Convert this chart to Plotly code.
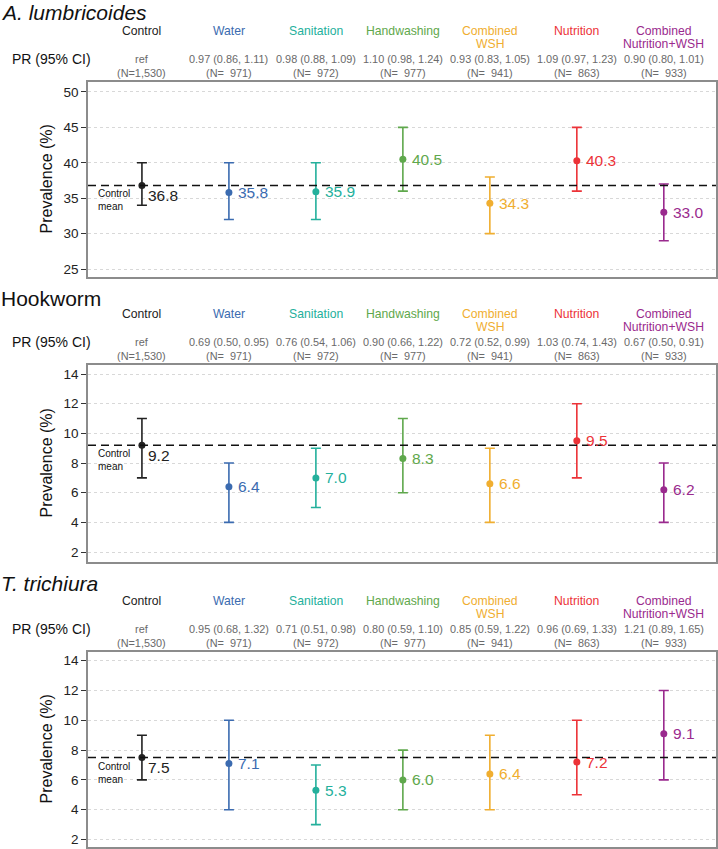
import plotly.graph_objects as go

W, H = 718, 849
FONT = "Liberation Sans, Arial, Helvetica, sans-serif"

groups = ["Control", "Water", "Sanitation", "Handwashing", "Combined\nWSH", "Nutrition", "Combined\nNutrition+WSH"]
colors = ["#222222", "#3b6bb0", "#24b09c", "#5fa84c", "#f0ae30", "#ec3338", "#9a2a8e"]
n_labels = ["(N=1,530)", "(N=  971)", "(N=  972)", "(N=  977)", "(N=  941)", "(N=  863)", "(N=  933)"]

titles = ["<i>A. lumbricoides</i>", "Hookworm", "<i>T. trichiura</i>"]

asc_prev = [36.8, 35.8, 35.9, 40.5, 34.3, 40.3, 33.0]
asc_lo = [34, 32, 32, 36, 30, 36, 29]
asc_hi = [40, 40, 40, 45, 38, 45, 37]
asc_pr = ["ref", "0.97 (0.86, 1.11)", "0.98 (0.88, 1.09)", "1.10 (0.98, 1.24)",
          "0.93 (0.83, 1.05)", "1.09 (0.97, 1.23)", "0.90 (0.80, 1.01)"]

hw_prev = [9.2, 6.4, 7.0, 8.3, 6.6, 9.5, 6.2]
hw_lo = [7, 4, 5, 6, 4, 7, 4]
hw_hi = [11, 8, 9, 11, 9, 12, 8]
hw_pr = ["ref", "0.69 (0.50, 0.95)", "0.76 (0.54, 1.06)", "0.90 (0.66, 1.22)",
         "0.72 (0.52, 0.99)", "1.03 (0.74, 1.43)", "0.67 (0.50, 0.91)"]

tt_prev = [7.5, 7.1, 5.3, 6.0, 6.4, 7.2, 9.1]
tt_lo = [6, 4, 3, 4, 4, 5, 6]
tt_hi = [9, 10, 7, 8, 9, 10, 12]
tt_pr = ["ref", "0.95 (0.68, 1.32)", "0.71 (0.51, 0.98)", "0.80 (0.59, 1.10)",
         "0.85 (0.59, 1.22)", "0.96 (0.69, 1.33)", "1.21 (0.89, 1.65)"]

panels = [
    dict(title=titles[0], prev=asc_prev, lo=asc_lo, hi=asc_hi, pr=asc_pr,
         yrange=[23.87, 51.41], ticks=[25, 30, 35, 40, 45, 50], top=82, bottom=277, title_top=0),
    dict(title=titles[1], prev=hw_prev, lo=hw_lo, hi=hw_hi, pr=hw_pr,
         yrange=[1.33, 14.61], ticks=[2, 4, 6, 8, 10, 12, 14], top=365, bottom=562, title_top=286),
    dict(title=titles[2], prev=tt_prev, lo=tt_lo, hi=tt_hi, pr=tt_pr,
         yrange=[1.5, 14.58], ticks=[2, 4, 6, 8, 10, 12, 14], top=652, bottom=847, title_top=571),
]

xs = list(range(len(groups)))


def ppx(p):
    return p / W


def ppy(p):
    return 1 - p / H


fig = go.Figure()
annotations = []
shapes = []
layout_axes = {}

for k, pn in enumerate(panels):
    sfx = "" if k == 0 else str(k + 1)
    xa, ya = "x" + sfx, "y" + sfx
    for i in xs:
        fig.add_trace(go.Scatter(
            x=[i], y=[pn["prev"][i]], xaxis=xa, yaxis=ya, mode="markers",
            marker=dict(color=colors[i], size=7),
            error_y=dict(type="data", symmetric=False,
                         array=[pn["hi"][i] - pn["prev"][i]],
                         arrayminus=[pn["prev"][i] - pn["lo"][i]],
                         color=colors[i], thickness=1.6, width=5),
            showlegend=False, hoverinfo="skip"))
        annotations.append(dict(
            x=i, y=pn["prev"][i], xref=xa, yref=ya, text=f"{pn['prev'][i]:.1f}",
            showarrow=False, xanchor="left", yanchor="middle",
            xshift=4 if i == 0 else 7, yshift=-10 if i == 0 else 0,
            font=dict(size=15.5, color=colors[i], family=FONT)))
    top, bottom = pn["top"], pn["bottom"]
    layout_axes["xaxis" + sfx] = dict(
        domain=[ppx(88), ppx(716)], range=[-0.62, 6.6], anchor=ya,
        showticklabels=False, ticks="", showgrid=False, zeroline=False,
        showline=True, mirror=True, linecolor="#8c8c8c", linewidth=1.5)
    layout_axes["yaxis" + sfx] = dict(
        domain=[ppy(bottom), ppy(top)], range=pn["yrange"], anchor=xa,
        tickvals=pn["ticks"], ticks="outside", ticklen=5, tickwidth=1.3, tickcolor="#333",
        tickfont=dict(size=13.5, color="#222", family=FONT),
        showgrid=True, gridcolor="#d8d8d8", gridwidth=0.8, griddash="dot",
        zeroline=False, showline=True, mirror=True, linecolor="#8c8c8c", linewidth=1.5)
    mean = pn["prev"][0]
    shapes.append(dict(type="line", xref=xa + " domain", yref=ya, x0=0, x1=1, y0=mean, y1=mean,
                       line=dict(color="#111", width=1.6, dash="8px,5px")))
    annotations.append(dict(
        x=ppx(96), y=mean, xref="paper", yref=ya, text="Control<br>mean", showarrow=False,
        xanchor="left", yanchor="top", align="left", yshift=-1,
        font=dict(size=10, color="#111", family=FONT)))
    annotations.append(dict(
        x=0, y=ppy(pn["title_top"]), xref="paper", yref="paper", text=pn["title"],
        showarrow=False, xanchor="left", yanchor="top", borderpad=0,
        font=dict(size=21, color="#111", family=FONT)))
    annotations.append(dict(
        x=ppx(93), y=ppy(top - 22.7), xref="paper", yref="paper", text="PR (95% CI)",
        showarrow=False, xanchor="right", yanchor="middle",
        font=dict(size=14, color="#111", family=FONT)))
    for i in xs:
        for j, line in enumerate(groups[i].split("\n")):
            annotations.append(dict(
                x=i, y=ppy(top - 51.3 + 13.6 * j), xref=xa, yref="paper", text=line,
                showarrow=False, xanchor="center", yanchor="middle",
                font=dict(size=12.2, color=colors[i], family=FONT)))
        annotations.append(dict(
            x=i, y=ppy(top - 22.7), xref=xa, yref="paper", text=pn["pr"][i],
            showarrow=False, xanchor="center", yanchor="middle",
            font=dict(size=10.9, color="#6a6a6a", family=FONT)))
        annotations.append(dict(
            x=i, y=ppy(top - 9.3), xref=xa, yref="paper", text=n_labels[i],
            showarrow=False, xanchor="center", yanchor="middle",
            font=dict(size=10.9, color="#6a6a6a", family=FONT)))
    annotations.append(dict(
        x=ppx(46), y=ppy((top + bottom) / 2), xref="paper", yref="paper",
        text="Prevalence (%)", textangle=-90, showarrow=False,
        xanchor="center", yanchor="middle",
        font=dict(size=16, color="#111", family=FONT)))

fig.update_layout(
    width=W, height=H, margin=dict(l=0, r=0, t=0, b=0),
    paper_bgcolor="white", plot_bgcolor="white",
    annotations=annotations, shapes=shapes, showlegend=False,
    font=dict(family=FONT), **layout_axes)

fig.write_html("out.html", config={"displayModeBar": False},
               post_script="document.body.style.margin='0';document.body.style.overflow='hidden';")
